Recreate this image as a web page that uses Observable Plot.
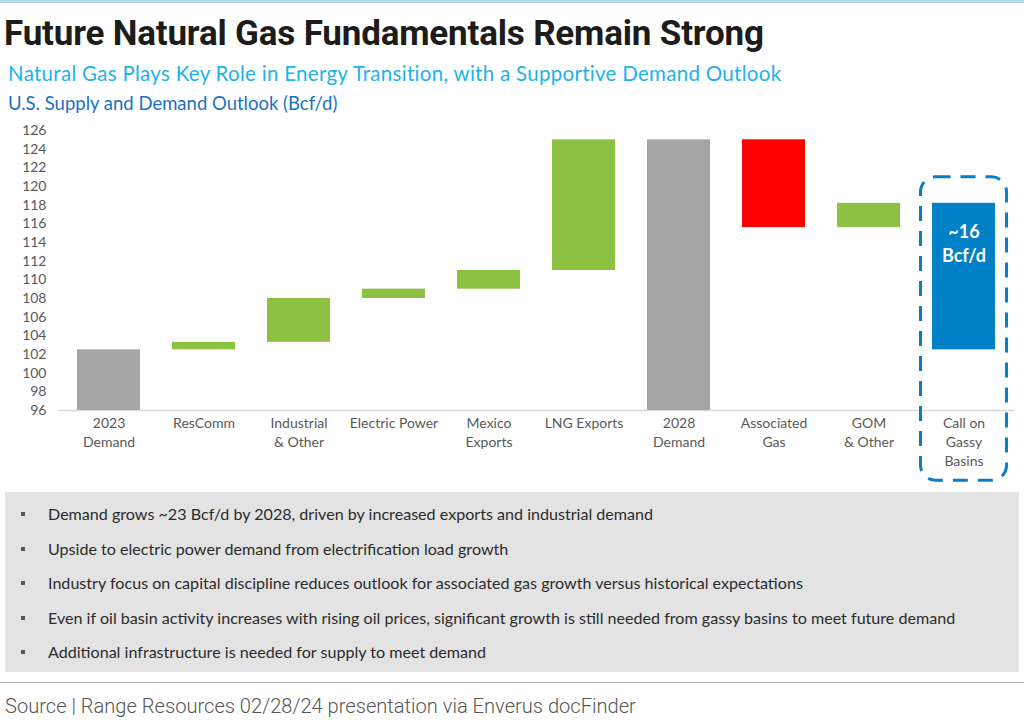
<!DOCTYPE html>
<html>
<head>
<meta charset="utf-8">
<script src="https://cdn.jsdelivr.net/npm/d3@7"></script>
<script src="https://cdn.jsdelivr.net/npm/@observablehq/plot@0.6"></script>
<style>
  html, body { margin: 0; padding: 0; background: #fff; }
  body { width: 1024px; height: 720px; position: relative; overflow: hidden; font-family: Lato, "Open Sans", sans-serif; }
  .abs { position: absolute; white-space: nowrap; }
  #topline { left: 0; top: 0; width: 1024px; height: 3px; background: #b3dcea; }
  #title { left: 4px; top: 13px; font-family: Roboto, sans-serif; font-weight: 700; font-size: 35px; line-height: 42px; color: #1c1c1c; letter-spacing: -0.18px; }
  #subtitle { left: 8px; top: 60px; font-size: 20.5px; line-height: 26px; color: #1cb3ea; letter-spacing: 0.29px; }
  #subtitle2 { left: 8px; top: 91px; font-size: 18.5px; line-height: 24px; color: #1a72bf; }
  #chart { left: 0; top: 120px; }
  #notes { left: 5px; top: 492px; width: 1014px; height: 180px; background: #e3e3e3; }
  .note { position: absolute; left: 0; white-space: nowrap; font-size: 16.1px; line-height: 20px; color: #2b2b2b; }
  .note .sq { position: absolute; left: 16px; top: 8px; width: 4px; height: 4px; background: #555; }
  .note .tx { position: absolute; left: 43px; top: 0; }
  #rule { left: 0; top: 682px; width: 1024px; height: 1px; background: #aaaaaa; }
  #source { left: 5px; top: 694px; font-family: Roboto, sans-serif; font-weight: 300; font-size: 20.1px; line-height: 24px; color: #555; }
</style>
</head>
<body>
<div id="topline" class="abs"></div>
<div id="title" class="abs"></div>
<div id="subtitle" class="abs"></div>
<div id="subtitle2" class="abs"></div>
<div id="chart" class="abs"></div>
<div id="notes" class="abs"></div>
<div id="rule" class="abs"></div>
<div id="source" class="abs"></div>
<script>
// ---- text ----
const titleText = "Future Natural Gas Fundamentals Remain Strong";
const subtitleText = "Natural Gas Plays Key Role in Energy Transition, with a Supportive Demand Outlook";
const subtitle2Text = "U.S. Supply and Demand Outlook (Bcf/d)";
const sourceText = "Source | Range Resources 02/28/24 presentation via Enverus docFinder";
const notes = [
  "Demand grows ~23 Bcf/d by 2028, driven by increased exports and industrial demand",
  "Upside to electric power demand from electrification load growth",
  "Industry focus on capital discipline reduces outlook for associated gas growth versus historical expectations",
  "Even if oil basin activity increases with rising oil prices, significant growth is still needed from gassy basins to meet future demand",
  "Additional infrastructure is needed for supply to meet demand"
];

// ---- data ----
const categories = ["2023\nDemand", "ResComm", "Industrial\n& Other", "Electric Power", "Mexico\nExports", "LNG Exports", "2028\nDemand", "Associated\nGas", "GOM\n& Other", "Call on\nGassy\nBasins"];
const barStart = [96, 102.5, 103.3, 108.0, 109.0, 111.0, 96, 115.6, 115.6, 102.5];
const barEnd   = [102.5, 103.3, 108.0, 109.0, 111.0, 125.0, 125.0, 125.0, 118.2, 118.2];
const barKind  = ["total", "increase", "increase", "increase", "increase", "increase", "total", "decrease", "increase", "call"];
const yTicks = [96, 98, 100, 102, 104, 106, 108, 110, 112, 114, 116, 118, 120, 122, 124, 126];
const kinds = ["total", "increase", "decrease", "call"];
const kindColors = ["#a5a5a5", "#8cc142", "#ff0000", "#0081c7"];

const rows = categories.map((c, i) => ({cat: c, y1: barStart[i], y2: barEnd[i], kind: barKind[i]}));
const callRows = rows.filter(d => d.kind === "call");
const callLabel = callRows.map(d => ({...d, label: "~" + Math.round(d.y2 - d.y1) + "\nBcf/d"}));

document.getElementById("title").textContent = titleText;
document.getElementById("subtitle").textContent = subtitleText;
document.getElementById("subtitle2").textContent = subtitle2Text;
document.getElementById("source").textContent = sourceText;
const notesEl = document.getElementById("notes");
notes.forEach((t, i) => {
  const d = document.createElement("div");
  d.className = "note";
  d.style.top = (12 + i * 34.5) + "px";
  d.innerHTML = '<span class="sq"></span><span class="tx"></span>';
  d.querySelector(".tx").textContent = t;
  notesEl.appendChild(d);
});

const chart = Plot.plot({
  width: 1024,
  height: 370,
  marginTop: 10,
  marginBottom: 80,
  marginLeft: 59,
  marginRight: 10,
  style: {fontFamily: "Lato, 'Open Sans', sans-serif", color: "#595959", background: "transparent", overflow: "visible"},
  x: {domain: categories, paddingInner: 0.335, paddingOuter: 0.1675, label: null},
  y: {domain: [96, 126], label: null},
  color: {domain: kinds, range: kindColors},
  marks: [
    Plot.ruleY([96], {stroke: "#d9d9d9", strokeWidth: 1.5}),
    Plot.barY(rows, {x: "cat", y1: "y1", y2: "y2", fill: "kind"}),
    Plot.barY(callRows, {x: "cat", y1: "y1", y2: "y2", fill: "none", stroke: "#0a7dc6", strokeWidth: 3, strokeDasharray: "15,10", rx: 15,
      insetLeft: -11.5, insetRight: -11.5, insetTop: -26, insetBottom: -131}),
    Plot.text(callLabel, {x: "cat", y: "y2", text: "label", lineAnchor: "top", dy: 18, fill: "white", fontWeight: "bold", fontSize: 18, lineHeight: 1.33}),
    Plot.axisY({ticks: yTicks, tickSize: 0, tickPadding: 13, fontSize: 14, tickFormat: d => d}),
    Plot.axisX({tickSize: 0, tickPadding: 4, fontSize: 14, lineHeight: 1.36})
  ]
});
document.getElementById("chart").appendChild(chart);
</script>
</body>
</html>
